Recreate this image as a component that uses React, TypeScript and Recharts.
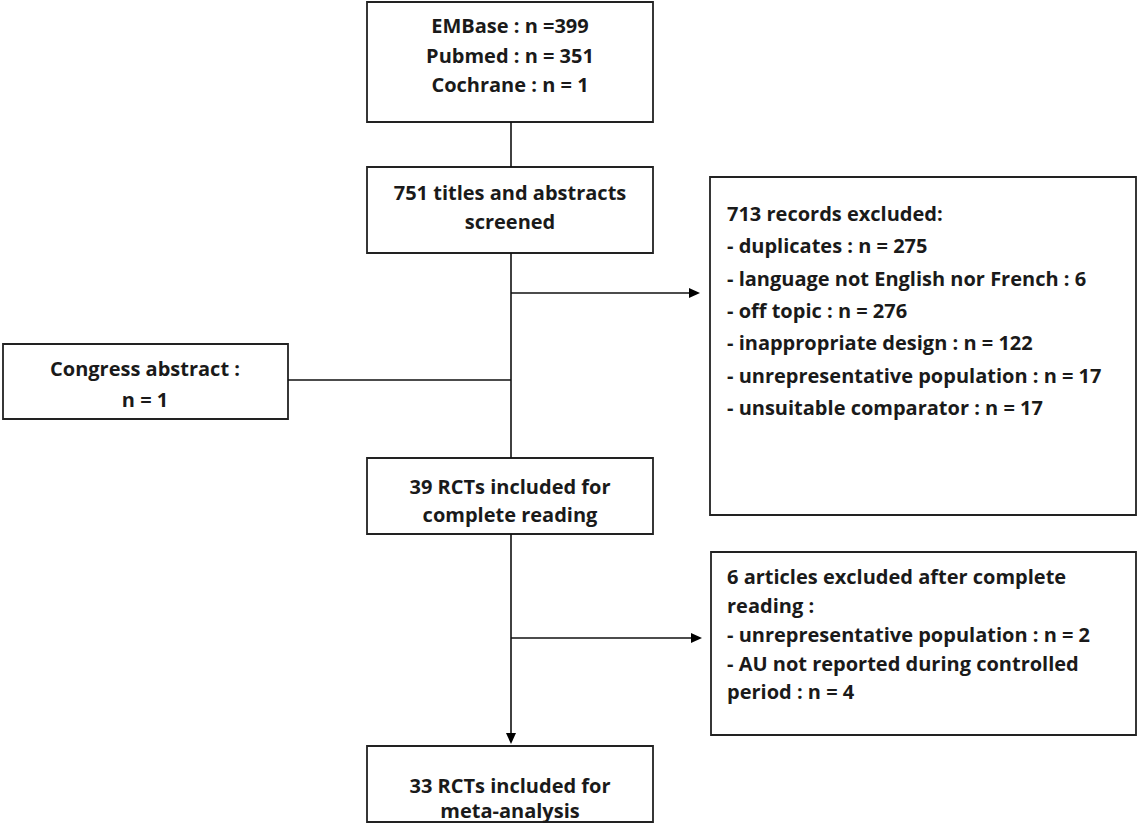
import { ComposedChart, XAxis, YAxis, Scatter, ReferenceArea, ReferenceLine } from "recharts";

const W = 1137;
const H = 824;

// boxes of the flow diagram (diagram units = pixels of the original figure)
const boxes = [
  { id: "sources", x1: 367, x2: 653, y1: 2, y2: 122 },
  { id: "screened", x1: 367, x2: 653, y1: 167, y2: 253 },
  { id: "excluded1", x1: 710, x2: 1136, y1: 177, y2: 515 },
  { id: "congress", x1: 3, x2: 288, y1: 344, y2: 419 },
  { id: "reading", x1: 367, x2: 653, y1: 458, y2: 534 },
  { id: "excluded2", x1: 711, x2: 1136, y1: 552, y2: 735 },
  { id: "meta", x1: 367, x2: 653, y1: 746, y2: 822 },
];

// connectors
const links = [
  { from: { x: 511, y: 122 }, to: { x: 511, y: 167 } },
  { from: { x: 511, y: 253 }, to: { x: 511, y: 458 } },
  { from: { x: 511, y: 293 }, to: { x: 692, y: 293 } },
  { from: { x: 288, y: 380 }, to: { x: 511, y: 380 } },
  { from: { x: 511, y: 534 }, to: { x: 511, y: 736 } },
  { from: { x: 511, y: 638 }, to: { x: 694, y: 638 } },
];

const arrowTips = [
  { x: 700, y: 293, dir: "right" },
  { x: 702, y: 638, dir: "right" },
  { x: 511, y: 744, dir: "down" },
];

// centered labels
const centerLabels = [
  { x: 510, y: 25, text: "EMBase : n =399" },
  { x: 510, y: 55, text: "Pubmed : n = 351" },
  { x: 510, y: 84, text: "Cochrane : n = 1" },
  { x: 510, y: 192, text: "751 titles and abstracts" },
  { x: 510, y: 221, text: "screened" },
  { x: 145, y: 368, text: "Congress abstract :" },
  { x: 145, y: 399, text: "n = 1" },
  { x: 510, y: 486, text: "39 RCTs included for" },
  { x: 510, y: 514, text: "complete reading" },
  { x: 510, y: 785, text: "33 RCTs included for" },
  { x: 510, y: 810, text: "meta-analysis" },
];

// left-aligned labels in the exclusion boxes
const leftLabels = [
  { x: 727, y: 213, text: "713 records excluded:" },
  { x: 727, y: 245, text: "- duplicates : n = 275" },
  { x: 727, y: 278, text: "- language not English nor French : 6" },
  { x: 727, y: 310, text: "- off topic : n = 276" },
  { x: 727, y: 342, text: "- inappropriate design : n = 122" },
  { x: 727, y: 375, text: "- unrepresentative population : n = 17" },
  { x: 727, y: 407, text: "- unsuitable comparator : n = 17" },
  { x: 727, y: 576, text: "6 articles excluded after complete" },
  { x: 727, y: 605, text: "reading :" },
  { x: 727, y: 634, text: "- unrepresentative population : n = 2" },
  { x: 727, y: 663, text: "- AU not reported during controlled" },
  { x: 727, y: 691, text: "period : n = 4" },
];

const FONT = "'Open Sans', Lato, sans-serif";

const labelShape = (anchor: "middle" | "start") => (props: any) => {
  const { cx, cy, payload } = props;
  return (
    <text
      x={cx}
      y={cy}
      textAnchor={anchor}
      dominantBaseline="central"
      style={{ fontFamily: FONT, fontWeight: 700, fontSize: 20 }}
      fill="#1a1a1a"
    >
      {payload.text}
    </text>
  );
};

const arrowShape = (props: any) => {
  const { cx, cy, payload } = props;
  const pts =
    payload.dir === "right"
      ? `${cx},${cy} ${cx - 11},${cy - 5} ${cx - 11},${cy + 5}`
      : `${cx},${cy} ${cx - 5},${cy - 11} ${cx + 5},${cy - 11}`;
  return <polygon points={pts} fill="#000" />;
};

export default function App() {
  return (
    <div style={{ position: "absolute", left: 0, top: 0, background: "#fff" }}>
      <ComposedChart width={W} height={H} margin={{ top: 0, right: 0, bottom: 0, left: 0 }}>
        <XAxis type="number" dataKey="x" domain={[0, W]} hide allowDataOverflow />
        <YAxis type="number" dataKey="y" domain={[0, H]} reversed hide allowDataOverflow width={0} />
        {links.map((l, i) => (
          <ReferenceLine
            key={`l${i}`}
            segment={[l.from, l.to]}
            stroke="#111"
            strokeWidth={1.6}
            ifOverflow="visible"
          />
        ))}
        {boxes.map((b) => (
          <ReferenceArea
            key={b.id}
            x1={b.x1}
            x2={b.x2}
            y1={b.y1}
            y2={b.y2}
            fill="#fff"
            fillOpacity={1}
            stroke="#222"
            strokeWidth={1.8}
            ifOverflow="visible"
          />
        ))}
        <Scatter data={arrowTips} dataKey="y" shape={arrowShape} isAnimationActive={false} />
        <Scatter data={centerLabels} dataKey="y" shape={labelShape("middle")} isAnimationActive={false} />
        <Scatter data={leftLabels} dataKey="y" shape={labelShape("start")} isAnimationActive={false} />
      </ComposedChart>
    </div>
  );
}
